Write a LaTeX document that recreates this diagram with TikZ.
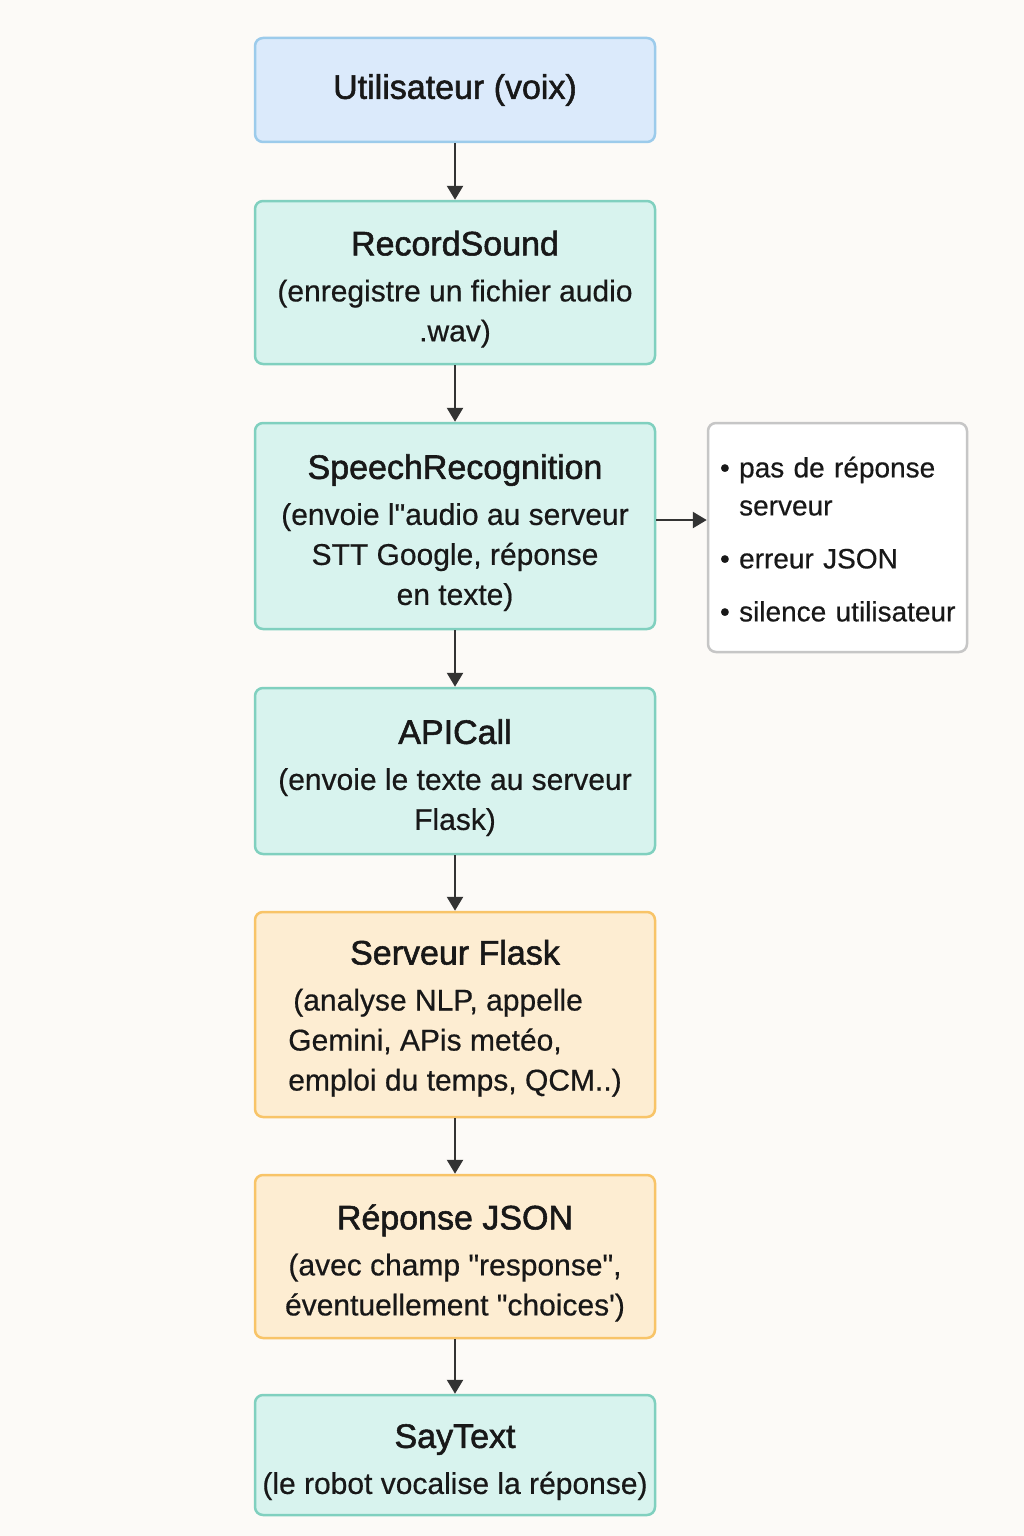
\documentclass[tikz,border=0pt]{standalone}
\usepackage{fontspec}
\setmainfont{Liberation Sans}[FakeBold=0.5,Ligatures=TeXOff]
\newfontfamily\titlefont{Liberation Sans}[FakeBold=1.6,Ligatures=TeXOff]
\usetikzlibrary{arrows.meta}
\definecolor{bgc}{HTML}{FCFAF7}
\definecolor{bluefill}{HTML}{DBEAFB}
\definecolor{blueline}{HTML}{9CCBEB}
\definecolor{tealfill}{HTML}{D8F3EE}
\definecolor{tealline}{HTML}{80D0BF}
\definecolor{orfill}{HTML}{FDEDD2}
\definecolor{orline}{HTML}{F8C468}
\definecolor{grayline}{HTML}{C6C6C6}
\definecolor{arrowc}{HTML}{333333}
\definecolor{txt}{HTML}{181818}
\newcommand{\ttl}[1]{{\titlefont\fontsize{34}{40}\selectfont\rule{0pt}{38pt}#1}}
\tikzset{
  box/.style={draw, line width=2.5pt, rounded corners=8pt, minimum width=400pt,
    align=center, inner sep=0pt, text=txt, font=\fontsize{30}{40}\selectfont},
  bluebox/.style={box, fill=bluefill, draw=blueline},
  tealbox/.style={box, fill=tealfill, draw=tealline},
  orbox/.style={box, fill=orfill, draw=orline},
  sidebox/.style={draw=grayline, fill=white, line width=2.5pt, rounded corners=8pt,
    minimum width=259pt, minimum height=229pt, text width=235pt, inner xsep=12pt,
    align=left, text=txt, font=\fontsize{28}{38}\selectfont},
  arr/.style={draw=arrowc, line width=2.5pt, -{Triangle[width=16pt,length=14pt]}},
}
\begin{document}
\begin{tikzpicture}[x=1pt,y=-1pt]
\fill[bgc] (0,0) rectangle (1024,1536);
\node[bluebox, minimum height=104pt] (b1) at (455,90) {{\titlefont\fontsize{34}{40}\selectfont Utilisateur (voix)}};
\node[tealbox, minimum height=163pt] (b2) at (455,282.5)
  {\ttl{RecordSound}\\[6pt](enregistre un fichier audio\\.wav)};
\node[tealbox, minimum height=206pt] (b3) at (455,526)
  {\ttl{SpeechRecognition}\\[6pt](envoie l"audio au serveur\\STT Google, réponse\\en texte)};
\node[sidebox] (side) at (837.5,537.5)
  {\rule{0pt}{24pt}\textbullet\ pas de réponse\\\hphantom{\textbullet\ }serveur\\[15pt]\textbullet\ erreur JSON\\[15pt]\mbox{\textbullet\ silence utilisateur}};
\node[tealbox, minimum height=166pt] (b4) at (455,771)
  {\ttl{APICall}\\[6pt](envoie le texte au serveur\\Flask)};
\node[orbox, minimum height=205pt] (b5) at (455,1014.5)
  {\ttl{Serveur Flask}\\[6pt]\begin{tabular}[t]{@{}l@{}}\,(analyse NLP, appelle\\Gemini, APis metéo,\\emploi du temps, QCM..)\end{tabular}};
\node[orbox, minimum height=163pt] (b6) at (455,1256.5)
  {\ttl{Réponse JSON}\\[6pt](avec champ "response",\\éventuellement "choices')};
\node[tealbox, minimum height=120pt] (b7) at (455,1455)
  {\ttl{SayText}\\[6pt](le robot vocalise la réponse)};
\draw[arr] (b1) -- (b2);
\draw[arr] (b2) -- (b3);
\draw[arr] (b3) -- (b4);
\draw[arr] (b4) -- (b5);
\draw[arr] (b5) -- (b6);
\draw[arr] (b6) -- (b7);
\draw[arr] ([yshift=6pt]b3.east) -- ([yshift=17.5pt]side.west);
\end{tikzpicture}
\end{document}
